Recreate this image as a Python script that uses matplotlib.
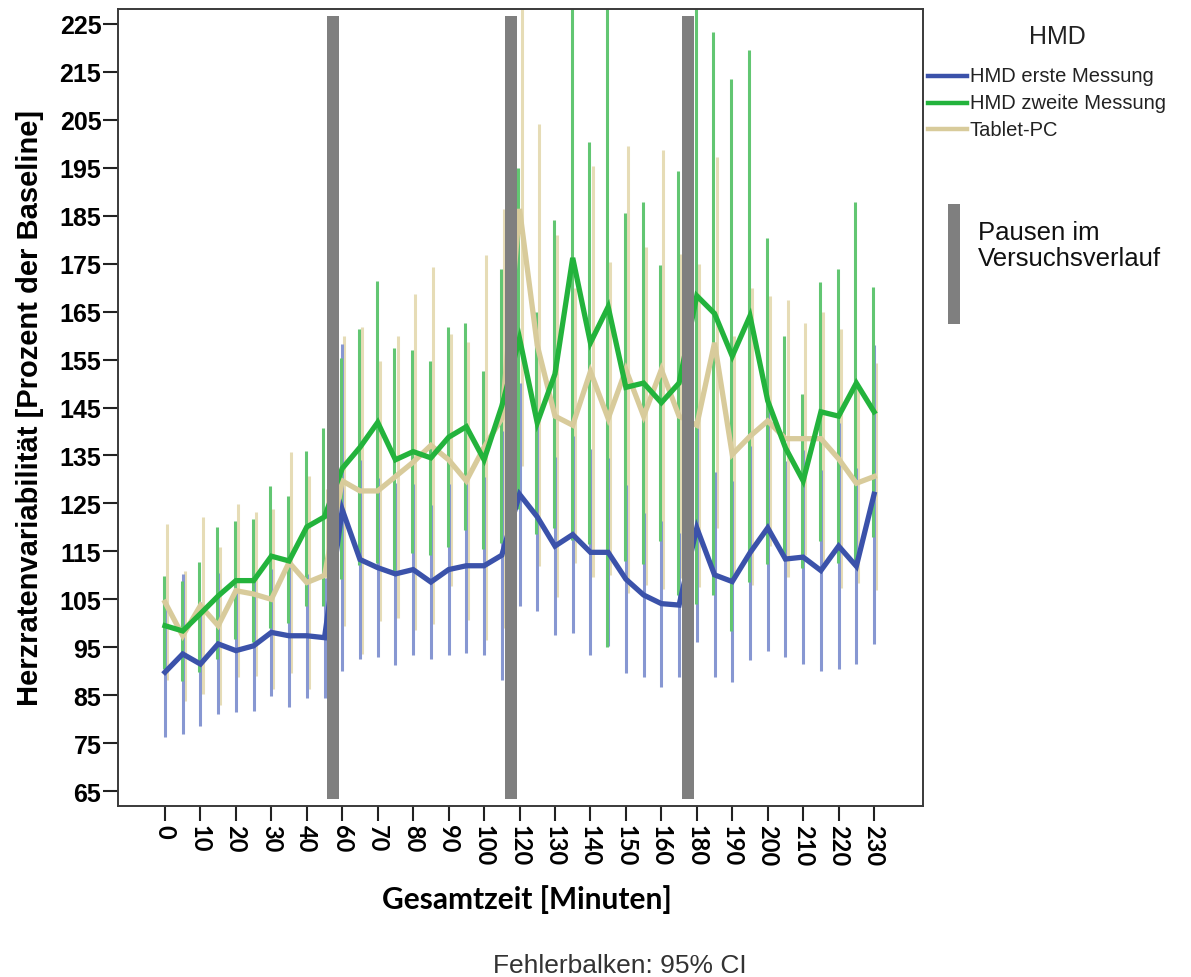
import matplotlib
matplotlib.use("Agg")
import matplotlib.pyplot as plt
from matplotlib.lines import Line2D
from matplotlib.patches import Rectangle

# ---------------- data ----------------
minutes = [0, 5, 10, 15, 20, 25, 30, 35, 40, 45,
           60, 65, 70, 75, 80, 85, 90, 95, 100, 105,
           120, 125, 130, 135, 140, 145, 150, 155, 160, 165,
           180, 185, 190, 195, 200, 205, 210, 215, 220, 225, 230]

tick_labels = ["0", "10", "20", "30", "40", "60", "70", "80", "90", "100",
               "120", "130", "140", "150", "160", "180", "190", "200", "210", "220", "230"]

series_names = ["HMD erste Messung", "HMD zweite Messung", "Tablet-PC"]

hmd1_mean = [89.8, 93.6, 91.5, 95.7, 94.3, 95.3, 98.1, 97.4, 97.4, 97.0,
             123.7, 113.3, 111.6, 110.3, 111.2, 108.6, 111.2, 112.0, 112.0, 114.2,
             126.9, 122.2, 116.1, 118.5, 114.8, 114.8, 109.2, 105.9, 104.1, 103.8,
             119.9, 110.1, 108.7, 114.7, 119.9, 113.4, 113.8, 111.0, 116.1, 111.9, 126.9]
hmd1_low = [76.2, 76.9, 78.6, 81.0, 81.4, 81.7, 84.9, 82.5, 84.5, 84.5,
            90.0, 92.6, 93.0, 91.3, 93.4, 92.6, 93.4, 93.9, 93.4, 88.2,
            103.6, 102.6, 97.5, 98.0, 93.3, 95.2, 89.6, 88.7, 86.8, 88.7,
            96.1, 88.7, 87.8, 92.4, 94.3, 92.9, 91.5, 90.1, 90.5, 91.5, 95.7]
hmd1_high = [103.4, 110.3, 104.4, 110.4, 107.2, 108.9, 111.3, 112.3, 110.3, 109.5,
             158.3, 134.0, 130.2, 129.3, 129.0, 124.6, 129.0, 130.1, 130.6, 140.2,
             150.2, 141.8, 134.7, 139.0, 136.3, 134.4, 128.8, 123.1, 121.4, 118.9,
             143.7, 131.5, 129.6, 137.0, 145.5, 133.9, 136.1, 131.9, 141.7, 132.3, 158.1]

hmd2_mean = [99.5, 98.4, 102.0, 105.7, 108.9, 108.9, 114.0, 113.0, 120.1, 122.2,
             132.3, 136.7, 141.9, 134.1, 135.8, 134.5, 138.8, 141.0, 134.1, 145.3,
             159.4, 141.8, 152.0, 176.2, 158.5, 166.0, 149.2, 150.1, 146.0, 150.1,
             168.3, 164.6, 155.7, 164.1, 146.4, 136.6, 129.7, 144.1, 143.2, 150.1, 144.1]
hmd2_low = [90.5, 88.0, 89.8, 92.5, 96.7, 96.0, 99.0, 100.0, 103.7, 103.7,
            109.3, 112.1, 112.5, 110.8, 114.6, 114.2, 115.9, 119.4, 115.5, 116.7,
            123.8, 118.6, 119.9, 117.4, 116.6, 95.0, 112.9, 112.4, 117.2, 105.8,
            104.1, 106.0, 98.4, 108.7, 112.4, 113.3, 111.6, 117.1, 112.5, 112.4, 118.0]
hmd2_high = [109.9, 108.9, 112.8, 120.0, 121.4, 121.7, 128.7, 126.6, 136.0, 140.7,
             155.3, 161.3, 171.3, 157.4, 157.0, 154.8, 161.7, 162.6, 152.7, 173.9,
             195.0, 165.0, 184.1, 235.0, 200.4, 237.0, 185.5, 187.8, 174.8, 194.4,
             232.5, 223.2, 213.4, 219.5, 180.4, 159.9, 147.8, 171.1, 173.9, 187.8, 170.2]

tab_mean = [104.4, 97.4, 103.7, 99.5, 106.8, 106.1, 105.0, 112.7, 108.5, 110.0,
            129.7, 127.6, 127.6, 130.6, 133.6, 137.1, 134.1, 129.7, 136.7, 142.7,
            186.4, 158.0, 143.2, 141.3, 152.5, 142.7, 152.9, 143.2, 152.9, 143.2,
            141.3, 158.5, 135.2, 139.0, 142.2, 138.5, 138.5, 138.5, 134.3, 129.2, 130.6]
tab_low = [88.1, 83.8, 85.3, 83.0, 88.7, 89.0, 86.2, 89.7, 86.2, 92.0,
           99.4, 93.5, 100.4, 101.2, 98.5, 99.9, 107.8, 100.7, 96.5, 99.0,
           132.8, 111.9, 105.5, 112.6, 109.7, 110.1, 106.3, 107.9, 107.2, 109.4,
           107.6, 119.8, 110.4, 108.0, 116.1, 109.6, 114.3, 112.0, 107.3, 108.4, 106.9]
tab_high = [120.7, 111.0, 122.1, 116.0, 124.9, 123.2, 123.8, 135.7, 130.8, 128.0,
            160.0, 161.7, 154.8, 160.0, 168.7, 174.3, 160.4, 158.7, 176.9, 186.4,
            240.0, 204.1, 180.9, 170.0, 195.3, 175.3, 199.5, 178.5, 198.6, 177.0,
            175.0, 197.2, 160.0, 170.0, 168.3, 167.4, 162.7, 165.0, 161.3, 150.0, 154.3]

pause_after = [45, 105, 165]   # pauses follow these measurement times
y_ticks = [65, 75, 85, 95, 105, 115, 125, 135, 145, 155, 165, 175, 185, 195, 205, 215, 225]

# ---------------- style ----------------
BLUE, GREEN, TAN = "#3b52aa", "#23b33c", "#d8cb9b"
BLUE_E, GREEN_E, TAN_E = "#8797d2", "#62c672", "#e6dcb6"
PAUSE = "#7f7f7f"

W, H = 1191, 978
fig = plt.figure(figsize=(W / 100, H / 100), dpi=100)
ax = fig.add_axes([118 / W, 1 - 807 / H, 805 / W, 797 / H])

pos = list(range(len(minutes)))

# error bars
ax.vlines([p + 0.12 for p in pos], tab_low, tab_high, color=TAN_E, lw=2.2, zorder=1)
ax.vlines(pos, hmd1_low, hmd1_high, color=BLUE_E, lw=2.2, zorder=1.1)
ax.vlines([p - 0.06 for p in pos], hmd2_low, hmd2_high, color=GREEN_E, lw=2.2, zorder=1.2)

# lines
ax.plot(pos, tab_mean, color=TAN, lw=3.8, zorder=3, solid_joinstyle="miter")
ax.plot(pos, hmd2_mean, color=GREEN, lw=3.8, zorder=3.1, solid_joinstyle="miter")
ax.plot(pos, hmd1_mean, color=BLUE, lw=3.8, zorder=3.2, solid_joinstyle="miter")

# pauses
ylo, yhi = 61.9, 228.1
for m in pause_after:
    xc = minutes.index(m) + 0.5
    ax.add_patch(Rectangle((xc - 0.34, 63.3), 0.68, 226.7 - 63.3,
                           facecolor=PAUSE, edgecolor="none", zorder=5))

ax.set_xlim(-2.65, 42.76)
ax.set_ylim(ylo, yhi)

ax.set_yticks(y_ticks)
ax.set_yticklabels([str(v) for v in y_ticks],
                   fontdict={"family": "Liberation Sans", "weight": "bold", "size": 18})
ax.set_xticks(pos[::2])
ax.set_xticklabels(tick_labels, rotation=270, ha="center", va="top",
                   fontdict={"family": "Lato", "weight": "bold", "size": 17})

ax.tick_params(axis="y", length=11, width=1.5, pad=1, color="#222222")
ax.tick_params(axis="x", length=11, width=1.5, pad=2, color="#222222")
for s in ax.spines.values():
    s.set_color("#3a3a3a")
    s.set_linewidth(1.4)

# axis titles
fig.text(30 / W, 1 - 408 / H, "Herzratenvariabilität [Prozent der Baseline]",
         rotation=90, ha="center", va="center", fontsize=21, fontweight="bold",
         family="Liberation Sans")
fig.text(527 / W, 1 - 900 / H, "Gesamtzeit [Minuten]", ha="center", va="center",
         fontsize=21.5, fontweight="bold", family="Lato")
fig.text(620 / W, 1 - 966 / H, "Fehlerbalken: 95% CI", ha="center", va="center",
         fontsize=19, family="Liberation Sans", color="#333333")

# legend
fig.text(1057 / W, 1 - 37 / H, "HMD", ha="center", va="center", fontsize=18,
         family="Liberation Sans", color="#222222")
for i, (name, col) in enumerate(zip(series_names, [BLUE, GREEN, TAN])):
    yy = 1 - (77 + 26.5 * i) / H
    fig.add_artist(Line2D([928 / W, 967 / W], [yy, yy], color=col, lw=3.2,
                          transform=fig.transFigure))
    fig.text(970 / W, yy, name, ha="left", va="center", fontsize=14.5,
             family="Liberation Sans", color="#222222")

fig.add_artist(Rectangle((948 / W, 1 - 325 / H), 12 / W, 120 / H,
                         facecolor=PAUSE, edgecolor="none", transform=fig.transFigure))
fig.text(978 / W, 1 - 233 / H, "Pausen im", ha="left", va="center", fontsize=18.5,
         family="Liberation Sans", color="#111111")
fig.text(978 / W, 1 - 259 / H, "Versuchsverlauf", ha="left", va="center", fontsize=18.5,
         family="Liberation Sans", color="#111111")

fig.savefig("out.png", dpi=100)
